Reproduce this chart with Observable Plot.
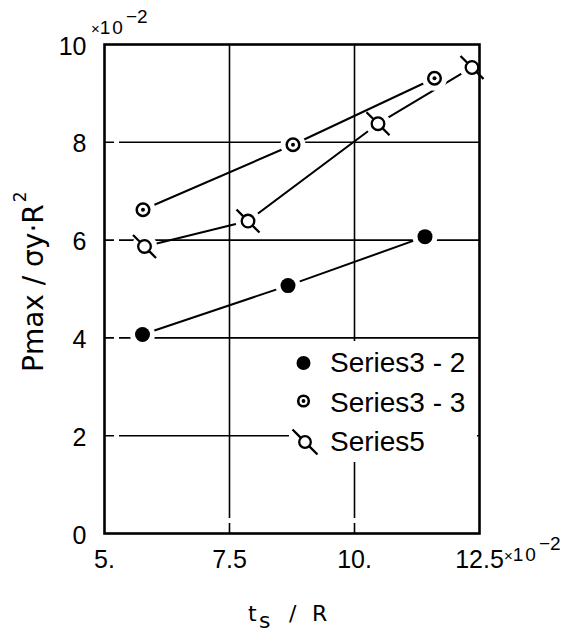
<!DOCTYPE html>
<html><head><meta charset="utf-8">
<script src="https://cdn.jsdelivr.net/npm/d3@7"></script>
<script src="https://cdn.jsdelivr.net/npm/@observablehq/plot@0.6"></script>
<style>body{margin:0;background:#fff}</style>
</head><body><div id="chart"></div>
<script>
const xTicks = [5, 7.5, 10, 12.5];
const xTickLabels = ["5.", "7.5", "10.", "12.5"];
const yTicks = [0, 2, 4, 6, 8, 10];
const yTickLabels = ["0", "2", "4", "6", "8", "10"];
const xGrid = [7.5, 10];
const yGrid = [2, 4, 6, 8];
const series32X = [5.76, 8.67, 11.41];
const series32Y = [4.07, 5.07, 6.07];
const series33X = [5.77, 8.77, 11.6];
const series33Y = [6.62, 7.95, 9.31];
const series5X = [5.8, 7.87, 10.47, 12.35];
const series5Y = [5.87, 6.39, 8.38, 9.53];
const seriesNames = ["Series3 - 2", "Series3 - 3", "Series5"];

const s32 = series32X.map((x, i) => ({x, y: series32Y[i]}));
const s33 = series33X.map((x, i) => ({x, y: series33Y[i]}));
const s5 = series5X.map((x, i) => ({x, y: series5Y[i]}));
const allPts = [...s32, ...s33, ...s5];

function tickedCircle(L) {
  return {
    draw(context, size) {
      const r = Math.sqrt(size / Math.PI);
      const a = r * Math.SQRT1_2;
      context.moveTo(r, 0);
      context.arc(0, 0, r, 0, 2 * Math.PI);
      context.moveTo(-L, -L);
      context.lineTo(-a, -a);
      context.moveTo(a, a);
      context.lineTo(L, L);
    }
  };
}

const tickFont = "Liberation Sans, Arial, sans-serif";
const titleFont = "DejaVu Sans, sans-serif";

const chart = Plot.plot({
  width: 581,
  height: 632,
  marginLeft: 104,
  marginRight: 102,
  marginTop: 44,
  marginBottom: 99,
  x: {domain: [5, 12.5]},
  y: {domain: [0, 10]},
  style: {background: "white", color: "black"},
  marks: [
    Plot.ruleX(xGrid, {stroke: "black", strokeWidth: 1.6, strokeDasharray: "474 5 100"}),
    Plot.ruleY(yGrid, {stroke: "black", strokeWidth: 1.6, strokeDasharray: "10 5 3000"}),
    Plot.line(s32, {x: "x", y: "y", stroke: "black", strokeWidth: 2}),
    Plot.line(s33, {x: "x", y: "y", stroke: "black", strokeWidth: 2}),
    Plot.line(s5, {x: "x", y: "y", stroke: "black", strokeWidth: 2}),
    Plot.dot(allPts, {x: "x", y: "y", r: 12.5, fill: "white", stroke: "none"}),
    Plot.dot(s32, {x: "x", y: "y", r: 7.5, fill: "black", stroke: "none"}),
    Plot.dot(s33, {x: "x", y: "y", r: 6.3, fill: "white", stroke: "black", strokeWidth: 2.5}),
    Plot.dot(s33, {x: "x", y: "y", r: 2, fill: "black", stroke: "none"}),
    Plot.dot(s5, {x: "x", y: "y", r: 6.3, symbol: tickedCircle(11.5), fill: "white", stroke: "black", strokeWidth: 2.3}),
    Plot.frame({stroke: "black", strokeWidth: 2.6}),
    Plot.axisX(xTicks, {tickSize: 0, tickPadding: 17, tickFormat: d => xTickLabels[xTicks.indexOf(d)], fontSize: 25, fontFamily: tickFont, label: null}),
    Plot.axisY(yTicks, {tickSize: 0, tickPadding: 18, tickFormat: d => yTickLabels[yTicks.indexOf(d)], fontSize: 25, fontFamily: tickFont, dy: 2, label: null})
  ]
});
document.getElementById("chart").appendChild(chart);

const svg = d3.select(chart);
// Legend
const lg = svg.append("g").attr("text-anchor", "start");
lg.append("rect").attr("x", 289).attr("y", 341).attr("width", 188).attr("height", 121)
  .style("fill", "white").style("stroke", "none");
const rowY = [363, 401, 442];
const textY = [372, 412, 451];
lg.append("circle").attr("cx", 303.5).attr("cy", rowY[0]).attr("r", 7).attr("fill", "black");
lg.append("circle").attr("cx", 303.5).attr("cy", rowY[1]).attr("r", 5.3).attr("fill", "white").attr("stroke", "black").attr("stroke-width", 2.6);
lg.append("circle").attr("cx", 303.5).attr("cy", rowY[1]).attr("r", 1.9).attr("fill", "black");
lg.append("path").attr("transform", `translate(305,${rowY[2]})`)
  .attr("d", d3.symbol(tickedCircle(12.5), 5.8 * 5.8 * Math.PI)())
  .attr("fill", "white").attr("stroke", "black").attr("stroke-width", 2.3);
seriesNames.forEach((name, i) => {
  lg.append("text").attr("x", 330).attr("y", textY[i]).attr("text-anchor", "start")
    .attr("font-family", tickFont).attr("font-size", 28).attr("fill", "black").text(name);
});

// exponent notes
function expNote(x, y) {
  const t = svg.append("text").attr("x", x).attr("y", y).attr("text-anchor", "start")
    .attr("font-family", tickFont).attr("fill", "black");
  t.append("tspan").attr("font-size", 15).text("×");
  t.append("tspan").attr("font-size", 19).attr("letter-spacing", 2).text("10");
  t.append("tspan").attr("font-size", 19).attr("dy", -11).attr("dx", 1).text("−2");
}
expNote(91, 34);
expNote(504, 561);

// axis titles
const yt = svg.append("text").attr("transform", "translate(43,372) rotate(-90)").attr("text-anchor", "start")
  .attr("font-family", titleFont).attr("font-size", 28).attr("fill", "black");
yt.append("tspan").text("Pmax / σy·R");
yt.append("tspan").attr("font-size", 17).attr("dy", -17).attr("dx", 2).text("2");

const xt = svg.append("text").attr("y", 621).attr("text-anchor", "start")
  .attr("font-family", titleFont).attr("font-size", 22).attr("fill", "black");
xt.append("tspan").attr("x", 248).text("t");
xt.append("tspan").attr("x", 259).attr("dy", 7).text("s");
xt.append("tspan").attr("x", 289).attr("dy", -7).text("/");
xt.append("tspan").attr("x", 312).text("R");
</script>
</body></html>
